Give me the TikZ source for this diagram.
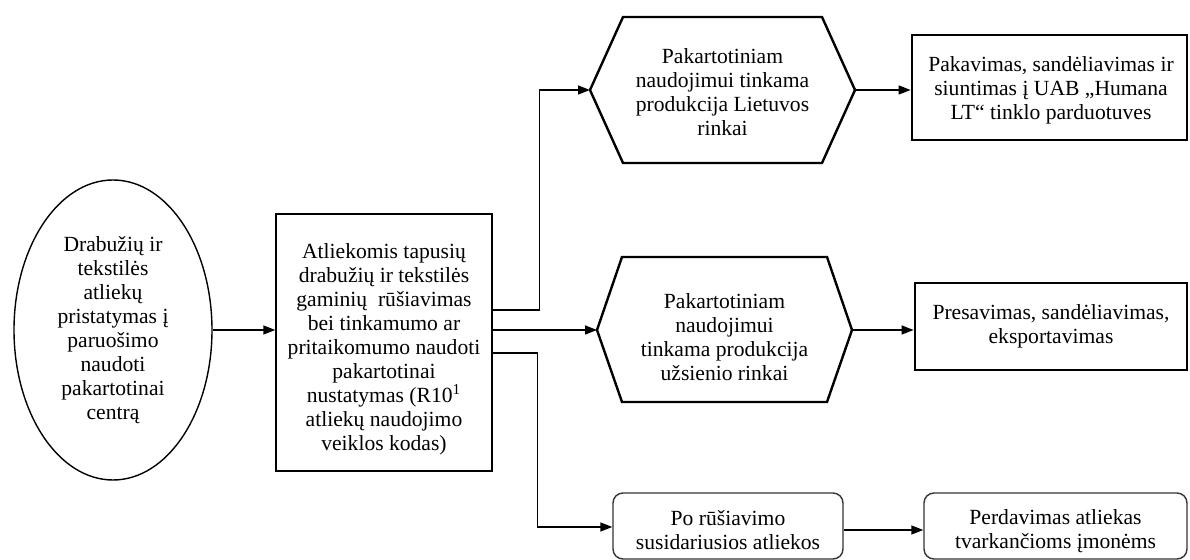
\documentclass[tikz,border=0pt]{standalone}
\usepackage{fontspec}
\setmainfont{Liberation Serif}
\usetikzlibrary{shapes.geometric,arrows.meta}
\begin{document}
\begin{tikzpicture}[x=0.5pt,y=-0.5pt,
  txt/.style={font=\fontsize{10.8}{12}\selectfont, align=center, inner sep=0pt},
  conn/.style={line width=0.7pt},
  arr/.style={conn, -{Triangle[length=6pt,width=4.5pt]}},
  thinbox/.style={draw, line width=0.7pt, txt},
  thickbox/.style={draw, line width=1.4pt, txt},
  roundbox/.style={draw=black!80, line width=0.7pt, rounded corners=5pt, txt},
  hexline/.style={line width=1.2pt, line join=miter}
]
\useasboundingbox (0,0) rectangle (1190,560);

% start ellipse
\node[ellipse, thinbox, minimum width=99pt, minimum height=150pt] (el) at (113,330)
  {Drabužių ir\\tekstilės\\atliekų\\pristatymas į\\paruošimo\\naudoti\\pakartotinai\\centrą};

% sorting rectangle
\node[thinbox, minimum width=108pt, minimum height=128.5pt] (rect) at (384,342.5) {};
\node[txt] (rectt) at (384,349)
  {Atliekomis tapusių\\drabužių ir tekstilės\\gaminių~ rūšiavimas\\bei tinkamumo ar\\pritaikomumo naudoti\\pakartotinai\\nustatymas (R10\textsuperscript{1}\\atliekų naudojimo\\veiklos kodas)};

% hexagon 1
\draw[hexline] (590,90) coordinate (h1w) -- (623,17) -- (822,17) -- (855,90) coordinate (h1e) -- (822,163) -- (623,163) -- cycle;
\node[txt] (h1) at (722.5,92)
  {Pakartotiniam\\naudojimui tinkama\\produkcija Lietuvos\\rinkai};

% hexagon 2
\draw[hexline] (597,330) coordinate (h2w) -- (622,257) -- (827,257) -- (852,330) coordinate (h2e) -- (827,402) -- (622,402) -- cycle;
\node[txt] (h2) at (724.5,337)
  {Pakartotiniam\\naudojimui\\tinkama produkcija\\užsienio rinkai};

% right boxes
\node[thickbox, minimum width=137.5pt, minimum height=52.5pt] (b1) at (1049.5,87.5) {};
\node[txt] (b1t) at (1051,90)
  {Pakavimas, sandėliavimas ir\\siuntimas į UAB „Humana\\LT“ tinklo parduotuves};
\node[thickbox, minimum width=136pt, minimum height=43.5pt] (b2) at (1051,326.5)
  {Presavimas, sandėliavimas,\\eksportavimas};

% rounded boxes
\node[roundbox, minimum width=115pt, minimum height=33pt] (p1) at (728,526) {};
\node[txt] (p1t) at (728,530) {Po rūšiavimo\\susidariusios atliekos};
\node[roundbox, minimum width=131.5pt, minimum height=33pt] (p2) at (1055.5,526) {};
\node[txt] (p2t) at (1055.5,531) {Perdavimas atliekas\\tvarkančioms įmonėms};

% connectors
\draw[arr] (el.east) -- (el.east -| rect.west);
\draw[arr] ([yshift=16.25pt]rect.east) -- ++(47,0) |- (h1w);
\draw[arr] (rect.east |- h2w) -- (h2w);
\draw[arr] ([yshift=-5.25pt]rect.east) -- ++(45,0) |- ([yshift=-0.5pt]p1.west);
\draw[arr] (h1e) -- (h1e -| b1.west);
\draw[arr] (h2e) -- (h2e -| b2.west);
\draw[arr] ([yshift=-2pt]p1.east) -- ([yshift=-2pt]p1.east -| p2.west);
\end{tikzpicture}
\end{document}
